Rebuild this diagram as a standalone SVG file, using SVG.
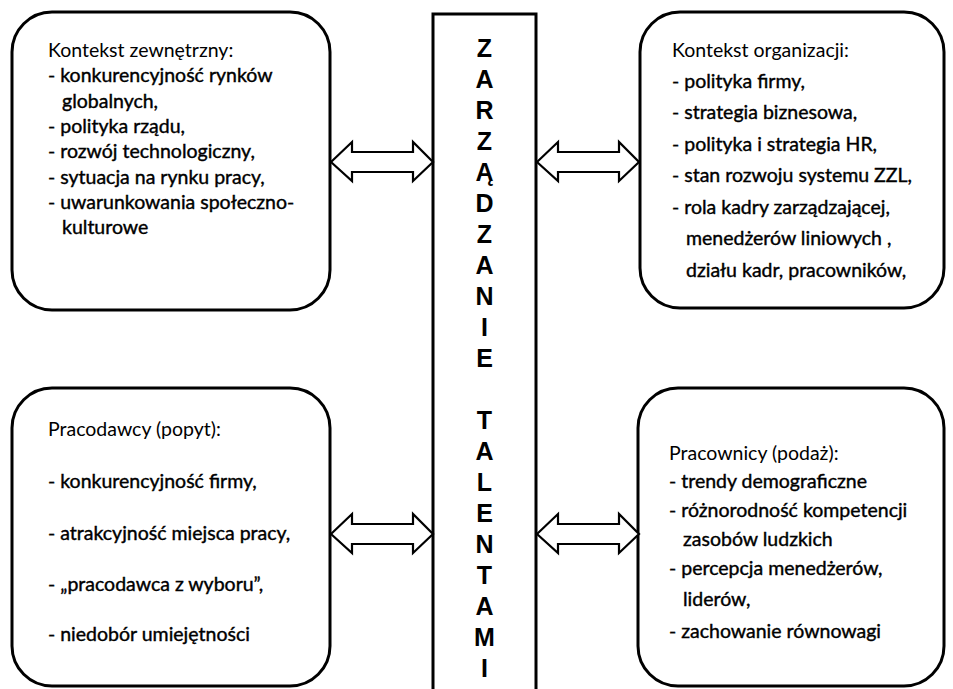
<svg xmlns="http://www.w3.org/2000/svg" width="953" height="689" viewBox="0 0 953 689">
<style>
.box{fill:#fff;stroke:#000;stroke-width:3}
.col{fill:#fff;stroke:#000;stroke-width:3}
.arr{fill:#fff;stroke:#000;stroke-width:2.2;stroke-linejoin:miter}
.t{font-family:Lato,"Open Sans",sans-serif;font-size:19.5px;fill:#000}
.i{stroke:#000;stroke-width:0.4}
.v{font-family:"Liberation Sans",Arial,sans-serif;font-weight:bold;font-size:25px;fill:#000;text-anchor:middle}
</style>
<rect width="953" height="689" fill="#fff"/>
<g id="column">
<rect class="col" x="433" y="14" width="103" height="690"/>
<text class="v" x="484.5" y="57">Z</text>
<text class="v" x="484.5" y="88">A</text>
<text class="v" x="484.5" y="119">R</text>
<text class="v" x="484.5" y="150">Z</text>
<text class="v" x="484.5" y="181">Ą</text>
<text class="v" x="484.5" y="212">D</text>
<text class="v" x="484.5" y="243">Z</text>
<text class="v" x="484.5" y="274">A</text>
<text class="v" x="484.5" y="305">N</text>
<text class="v" x="484.5" y="336">I</text>
<text class="v" x="484.5" y="367">E</text>
<text class="v" x="484.5" y="429">T</text>
<text class="v" x="484.5" y="460">A</text>
<text class="v" x="484.5" y="491">L</text>
<text class="v" x="484.5" y="522">E</text>
<text class="v" x="484.5" y="553">N</text>
<text class="v" x="484.5" y="584">T</text>
<text class="v" x="484.5" y="615">A</text>
<text class="v" x="484.5" y="646">M</text>
<text class="v" x="484.5" y="677">I</text>
</g>
<g id="kontekst-zewnetrzny">
<rect class="box" x="12" y="12" width="318" height="298" rx="40" ry="40"/>
<text class="t" x="48" y="57">Kontekst zewnętrzny:</text>
<text class="t i" x="48" y="82">- konkurencyjność rynków</text>
<text class="t i" x="62" y="108">globalnych,</text>
<text class="t i" x="48" y="133">- polityka rządu,</text>
<text class="t i" x="48" y="158">- rozwój technologiczny,</text>
<text class="t i" x="48" y="184">- sytuacja na rynku pracy,</text>
<text class="t i" x="48" y="209">- uwarunkowania społeczno-</text>
<text class="t i" x="62" y="234">kulturowe</text>
</g>
<g id="kontekst-organizacji">
<rect class="box" x="640" y="12" width="304" height="296" rx="40" ry="40"/>
<text class="t" x="672" y="57">Kontekst organizacji:</text>
<text class="t i" x="672" y="88">- polityka firmy,</text>
<text class="t i" x="672" y="119">- strategia biznesowa,</text>
<text class="t i" x="672" y="151">- polityka i strategia HR,</text>
<text class="t i" x="672" y="182">- stan rozwoju systemu ZZL,</text>
<text class="t i" x="672" y="214">- rola kadry zarządzającej,</text>
<text class="t i" x="686" y="245">menedżerów liniowych ,</text>
<text class="t i" x="686" y="277">działu kadr, pracowników,</text>
</g>
<g id="pracodawcy">
<rect class="box" x="12" y="388" width="318" height="298" rx="40" ry="40"/>
<text class="t" x="48" y="436">Pracodawcy (popyt):</text>
<text class="t i" x="48" y="488">- konkurencyjność firmy,</text>
<text class="t i" x="48" y="540">- atrakcyjność miejsca pracy,</text>
<text class="t i" x="48" y="591">- „pracodawca z wyboru”,</text>
<text class="t i" x="48" y="641">- niedobór umiejętności</text>
</g>
<g id="pracownicy">
<rect class="box" x="638" y="388" width="306" height="298" rx="40" ry="40"/>
<text class="t" x="669" y="460">Pracownicy (podaż):</text>
<text class="t i" x="669" y="488">- trendy demograficzne</text>
<text class="t i" x="669" y="517">- różnorodność kompetencji</text>
<text class="t i" x="683" y="546">zasobów ludzkich</text>
<text class="t i" x="669" y="575">- percepcja menedżerów,</text>
<text class="t i" x="683" y="606">liderów,</text>
<text class="t i" x="669" y="638">- zachowanie równowagi</text>
</g>
<g id="connectors">
<path class="arr" d="M331,162 L352,142 L352,152 L413,152 L413,142 L433,162 L413,181 L413,172 L352,172 L352,181 Z"/>
<path class="arr" d="M537,162 L558,142 L558,152 L619,152 L619,142 L639,162 L619,181 L619,172 L558,172 L558,181 Z"/>
<path class="arr" d="M331,534 L352,514 L352,524 L413,524 L413,514 L433,534 L413,553 L413,544 L352,544 L352,553 Z"/>
<path class="arr" d="M537,534 L558,514 L558,524 L619,524 L619,514 L639,534 L619,553 L619,544 L558,544 L558,553 Z"/>
</g>
</svg>
